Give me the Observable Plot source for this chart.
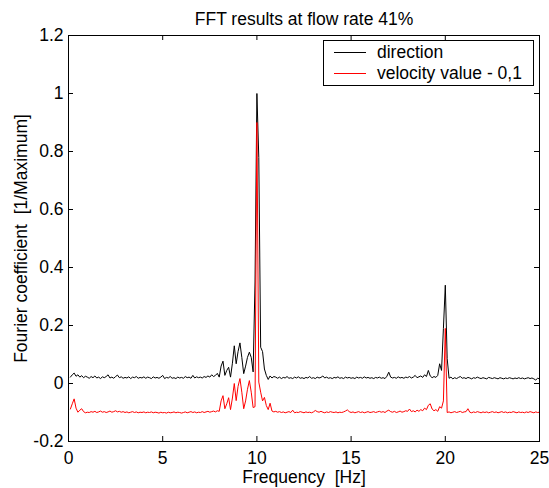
<!DOCTYPE html>
<html>
<head>
<meta charset="utf-8">
<script src="https://cdn.jsdelivr.net/npm/d3@7"></script>
<script src="https://cdn.jsdelivr.net/npm/@observablehq/plot@0.6"></script>
<style>
  html, body { margin: 0; padding: 0; background: #fff; }
  #wrap { position: relative; width: 549px; height: 488px; font-family: "Liberation Sans", Arial, sans-serif; }
  #legend { position: absolute; left: 323px; top: 40px; width: 211px; height: 46px; border: 1px solid #000; background: #fff; box-sizing: border-box; font-size: 17.5px; }
  .row { position: absolute; left: 0; height: 21px; display: flex; align-items: center; }
  .swatch { width: 32px; height: 0; border-top: 1px solid; margin-left: 10px; margin-right: 11px; }
</style>
</head>
<body>
<div id="wrap"></div>
<script>
// Sampling grid of the FFT (Hz)
const freqStart = 0.1;
const freqStep = 0.1;

// "direction" series (one row per Hz, 0.1 Hz steps)
const directionValues = [
  0.022, 0.030, 0.036, 0.025, 0.030, 0.022, 0.027, 0.020, 0.025, 0.022,
  0.018, 0.024, 0.020, 0.026, 0.019, 0.022, 0.017, 0.023, 0.020, 0.024,
  0.030, 0.019, 0.022, 0.018, 0.024, 0.029, 0.020, 0.023, 0.018, 0.021,
  0.019, 0.023, 0.017, 0.022, 0.020, 0.024, 0.018, 0.021, 0.019, 0.023,
  0.018, 0.022, 0.020, 0.017, 0.023, 0.019, 0.021, 0.018, 0.022, 0.028,
  0.017, 0.021, 0.019, 0.024, 0.018, 0.020, 0.017, 0.022, 0.019, 0.021,
  0.018, 0.024, 0.020, 0.022, 0.018, 0.028, 0.019, 0.023, 0.020, 0.022,
  0.019, 0.024, 0.021, 0.026, 0.022, 0.030, 0.024, 0.028, 0.035, 0.022,
  0.060, 0.077, 0.028, 0.045, 0.056, 0.022, 0.070, 0.130, 0.068, 0.110,
  0.140, 0.090, 0.034, 0.060, 0.090, 0.108, 0.090, 0.040, 0.350, 1.000,
  0.780, 0.125, 0.110, 0.050, 0.028, 0.014, 0.026, 0.019, 0.024, 0.022,
  0.018, 0.022, 0.017, 0.021, 0.019, 0.024, 0.018, 0.020, 0.017, 0.022,
  0.019, 0.023, 0.018, 0.020, 0.017, 0.021, 0.019, 0.024, 0.018, 0.020,
  0.017, 0.022, 0.019, 0.021, 0.026, 0.019, 0.022, 0.018, 0.020, 0.017,
  0.021, 0.019, 0.023, 0.018, 0.020, 0.017, 0.022, 0.019, 0.021, 0.018,
  0.020, 0.017, 0.022, 0.019, 0.021, 0.018, 0.023, 0.019, 0.021, 0.018,
  0.020, 0.017, 0.021, 0.019, 0.022, 0.018, 0.020, 0.017, 0.025, 0.039,
  0.022, 0.019, 0.021, 0.018, 0.023, 0.019, 0.021, 0.018, 0.022, 0.020,
  0.024, 0.019, 0.022, 0.028, 0.020, 0.023, 0.026, 0.021, 0.030, 0.024,
  0.045, 0.026, 0.020, 0.024, 0.021, 0.028, 0.068, 0.045, 0.190, 0.339,
  0.086, 0.018, 0.022, 0.016, 0.020, 0.017, 0.021, 0.024, 0.018, 0.020,
  0.017, 0.021, 0.019, 0.016, 0.020, 0.018, 0.022, 0.019, 0.017, 0.020,
  0.018, 0.016, 0.021, 0.019, 0.017, 0.020, 0.018, 0.016, 0.020, 0.018,
  0.016, 0.019, 0.017, 0.020, 0.018, 0.016, 0.019, 0.017, 0.020, 0.017,
  0.019, 0.016, 0.018, 0.020, 0.017, 0.019, 0.016, 0.012, 0.018, 0.016
];

// "velocity value - 0,1" series (already shifted by -0.1)
const velocityValues = [
  -0.088, -0.070, -0.053, -0.085, -0.099, -0.092, -0.087, -0.097, -0.101, -0.099,
  -0.100, -0.097, -0.099, -0.096, -0.100, -0.098, -0.095, -0.099, -0.097, -0.100,
  -0.098, -0.095, -0.099, -0.097, -0.094, -0.098, -0.096, -0.099, -0.097, -0.100,
  -0.098, -0.101, -0.099, -0.097, -0.100, -0.098, -0.101, -0.099, -0.100, -0.098,
  -0.101, -0.099, -0.100, -0.098, -0.101, -0.099, -0.100, -0.102, -0.099, -0.101,
  -0.100, -0.102, -0.099, -0.101, -0.100, -0.098, -0.101, -0.099, -0.100, -0.102,
  -0.100, -0.098, -0.101, -0.099, -0.097, -0.100, -0.098, -0.101, -0.099, -0.100,
  -0.097, -0.100, -0.098, -0.096, -0.099, -0.097, -0.095, -0.098, -0.094, -0.096,
  -0.060, -0.042, -0.087, -0.070, -0.049, -0.090, -0.050, 0.000, -0.059, -0.010,
  0.017, -0.030, -0.087, -0.060, -0.020, 0.010, -0.030, -0.083, -0.080, 0.900,
  0.005, -0.030, -0.060, -0.048, -0.076, -0.090, -0.068, -0.095, -0.098, -0.096,
  -0.099, -0.097, -0.100, -0.098, -0.101, -0.099, -0.097, -0.100, -0.092, -0.101,
  -0.099, -0.100, -0.097, -0.099, -0.101, -0.098, -0.100, -0.099, -0.101, -0.098,
  -0.093, -0.097, -0.099, -0.096, -0.099, -0.101, -0.098, -0.100, -0.097, -0.099,
  -0.100, -0.098, -0.101, -0.099, -0.100, -0.098, -0.095, -0.091, -0.097, -0.100,
  -0.098, -0.101, -0.099, -0.097, -0.100, -0.098, -0.101, -0.099, -0.097, -0.100,
  -0.099, -0.097, -0.100, -0.098, -0.096, -0.099, -0.097, -0.100, -0.095, -0.092,
  -0.097, -0.099, -0.096, -0.100, -0.098, -0.095, -0.099, -0.097, -0.094, -0.096,
  -0.088, -0.097, -0.094, -0.098, -0.092, -0.096, -0.090, -0.094, -0.085, -0.090,
  -0.075, -0.070, -0.088, -0.094, -0.090, -0.096, -0.080, -0.085, -0.060, 0.190,
  -0.100, -0.098, -0.101, -0.099, -0.097, -0.100, -0.098, -0.096, -0.100, -0.098,
  -0.097, -0.087, -0.099, -0.101, -0.098, -0.100, -0.097, -0.099, -0.101, -0.098,
  -0.100, -0.098, -0.101, -0.099, -0.097, -0.100, -0.098, -0.101, -0.099, -0.097,
  -0.100, -0.098, -0.101, -0.099, -0.100, -0.097, -0.099, -0.101, -0.098, -0.100,
  -0.099, -0.101, -0.098, -0.100, -0.097, -0.099, -0.101, -0.098, -0.100, -0.099
];

const xTicks = [0, 5, 10, 15, 20, 25];
const yTicks = [-0.2, 0, 0.2, 0.4, 0.6, 0.8, 1, 1.2];
const yTickLabels = ["-0.2", "0", "0.2", "0.4", "0.6", "0.8", "1", "1.2"];

const titleText = "FFT results at flow rate 41%";
const xLabel = "Frequency\u00a0\u00a0[Hz]";
const yLabel = "Fourier coefficient\u00a0\u00a0[1/Maximum]";
const seriesNames = ["direction", "velocity value - 0,1"];
const seriesColors = ["#000000", "#ff0000"];

const freq = directionValues.map((_, i) => +(freqStart + i * freqStep).toFixed(2));
const dirData = directionValues.map((v, i) => ({f: freq[i], v}));
const velData = velocityValues.map((v, i) => ({f: freq[i], v}));

const W = 549, H = 488;
const mL = 68, mR = 10, mT = 35, mB = 47;
const plotW = W - mL - mR, plotH = H - mT - mB;
const tickLen = 5;
const FS = 17.5;

const chart = Plot.plot({
  width: W,
  height: H,
  marginLeft: mL,
  marginRight: mR,
  marginTop: mT,
  marginBottom: mB,
  style: {fontFamily: "'Liberation Sans', Arial, sans-serif", fontSize: FS + "px", color: "#000", background: "#fff"},
  x: {domain: [0, 25], ticks: xTicks},
  y: {domain: [-0.2, 1.2], ticks: yTicks},
  marks: [
    Plot.axisX(xTicks, {tickSize: 0, tickPadding: 10, label: null, tickFormat: d => String(d), fontSize: FS}),
    Plot.axisY(yTicks, {tickSize: 0, tickPadding: 5, label: null, tickFormat: d => yTickLabels[yTicks.indexOf(d)], fontSize: FS}),
    // inward ticks on all four sides
    Plot.tickX(xTicks, {x: d => d, insetTop: plotH - tickLen, stroke: "#000"}),
    Plot.tickX(xTicks, {x: d => d, insetBottom: plotH - tickLen, stroke: "#000"}),
    Plot.tickY(yTicks, {y: d => d, insetRight: plotW - tickLen, stroke: "#000"}),
    Plot.tickY(yTicks, {y: d => d, insetLeft: plotW - tickLen, stroke: "#000"}),
    Plot.lineY(dirData, {x: "f", y: "v", stroke: seriesColors[0], strokeWidth: 1}),
    Plot.lineY(velData, {x: "f", y: "v", stroke: seriesColors[1], strokeWidth: 1}),
    Plot.frame({stroke: "#000", strokeWidth: 1}),
    Plot.text([titleText], {frameAnchor: "top", dy: -16, fontSize: FS, lineAnchor: "middle", fill: "#000"}),
    Plot.text([xLabel], {frameAnchor: "bottom", dy: 36, fontSize: FS, lineAnchor: "middle", fill: "#000"}),
    Plot.text([yLabel], {frameAnchor: "left", dx: -47, rotate: -90, textAnchor: "middle", lineAnchor: "middle", fontSize: FS, fill: "#000"})
  ]
});

const wrap = document.getElementById("wrap");
wrap.appendChild(chart);

const legend = document.createElement("div");
legend.id = "legend";
seriesNames.forEach((name, i) => {
  const row = document.createElement("div");
  row.className = "row";
  row.style.top = (i === 0 ? 1 : 22) + "px";
  const sw = document.createElement("span");
  sw.className = "swatch";
  sw.style.borderColor = seriesColors[i];
  const tx = document.createElement("span");
  tx.textContent = name;
  row.appendChild(sw);
  row.appendChild(tx);
  legend.appendChild(row);
});
wrap.appendChild(legend);
</script>
</body>
</html>
